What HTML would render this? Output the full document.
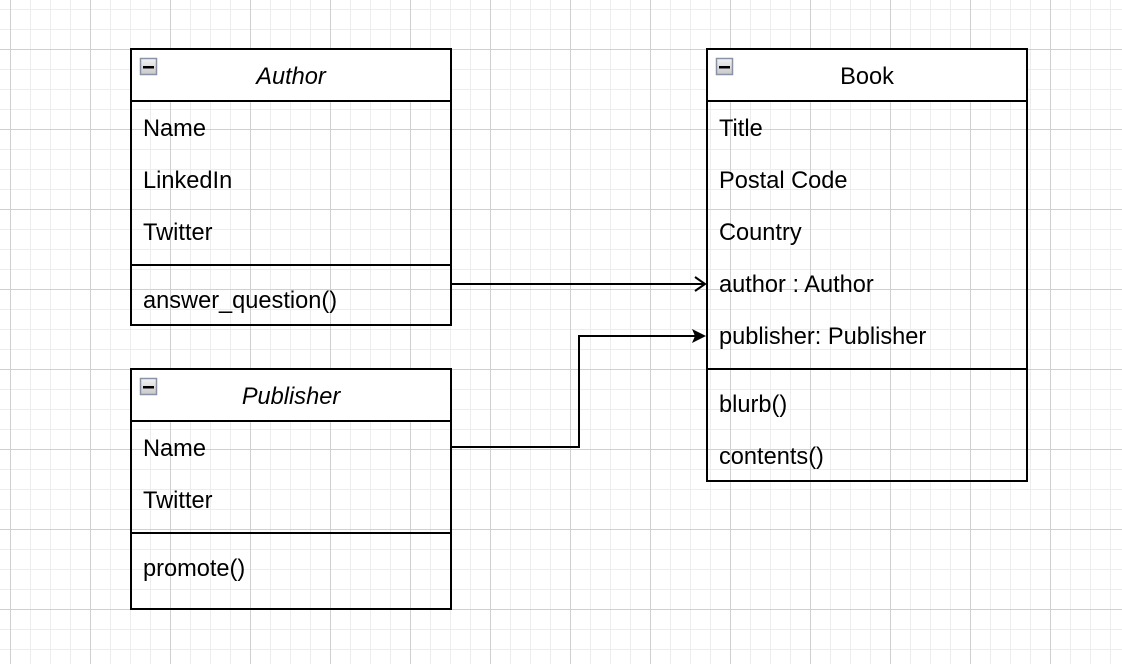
<!DOCTYPE html>
<html><head><meta charset="utf-8"><style>
html,body{margin:0;padding:0;}
body{width:1122px;height:664px;overflow:hidden;background:#fff;
background-image:
linear-gradient(to right,#d0d0d0 1px,transparent 1px),
linear-gradient(to bottom,#d0d0d0 1px,transparent 1px),
linear-gradient(to right,#ededed 1px,transparent 1px),
linear-gradient(to bottom,#ededed 1px,transparent 1px);
background-size:80px 80px,80px 80px,20px 20px,20px 20px;
background-position:10px 0,0 49px,10px 0,0 9px;}
svg{position:absolute;left:0;top:0;}
text{font-family:"Liberation Sans",Arial,sans-serif;font-size:23.6px;fill:#000;}
</style></head><body>
<svg width="1122" height="664" xmlns="http://www.w3.org/2000/svg">
<defs>
<linearGradient id="ig" x1="0" y1="0" x2="0" y2="1"><stop offset="0" stop-color="#f4f4f4"/><stop offset="1" stop-color="#c8c8c8"/></linearGradient>
</defs>
<g stroke="#000" stroke-width="2" fill="none">
<rect x="131" y="49" width="320" height="52" fill="#fff"/>
<rect x="131" y="49" width="320" height="276"/>
<line x1="131" y1="265" x2="451" y2="265"/>
<rect x="131" y="369" width="320" height="52" fill="#fff"/>
<rect x="131" y="369" width="320" height="240"/>
<line x1="131" y1="533" x2="451" y2="533"/>
<rect x="707" y="49" width="320" height="52" fill="#fff"/>
<rect x="707" y="49" width="320" height="432"/>
<line x1="707" y1="369" x2="1027" y2="369"/>
<line x1="451" y1="284" x2="705" y2="284"/>
<polyline points="695,277 705,284 695,291"/>
<polyline points="451,447 579,447 579,336 695,336"/>
</g>
<polygon points="706,336 692,329 695,336 692,343" fill="#000"/>
<g stroke="#8a93a6" stroke-width="1.5">
<rect x="140.5" y="58.5" width="16" height="16" fill="url(#ig)"/>
<rect x="140.5" y="378.5" width="16" height="16" fill="url(#ig)"/>
<rect x="716.5" y="58.5" width="16" height="16" fill="url(#ig)"/>
</g>
<g fill="#000">
<rect x="143" y="66" width="11" height="2.5"/>
<rect x="143" y="386" width="11" height="2.5"/>
<rect x="719" y="66" width="11" height="2.5"/>
</g>
<text x="291" y="84" text-anchor="middle" font-style="italic">Author</text>
<text x="143" y="136">Name</text>
<text x="143" y="188">LinkedIn</text>
<text x="143" y="240">Twitter</text>
<text x="143" y="308">answer_question()</text>
<text x="291" y="404" text-anchor="middle" font-style="italic">Publisher</text>
<text x="143" y="456">Name</text>
<text x="143" y="508">Twitter</text>
<text x="143" y="576">promote()</text>
<text x="867" y="84" text-anchor="middle">Book</text>
<text x="719" y="136">Title</text>
<text x="719" y="188">Postal Code</text>
<text x="719" y="240">Country</text>
<text x="719" y="292">author : Author</text>
<text x="719" y="344">publisher: Publisher</text>
<text x="719" y="412">blurb()</text>
<text x="719" y="464">contents()</text>
</svg>
</body></html>
